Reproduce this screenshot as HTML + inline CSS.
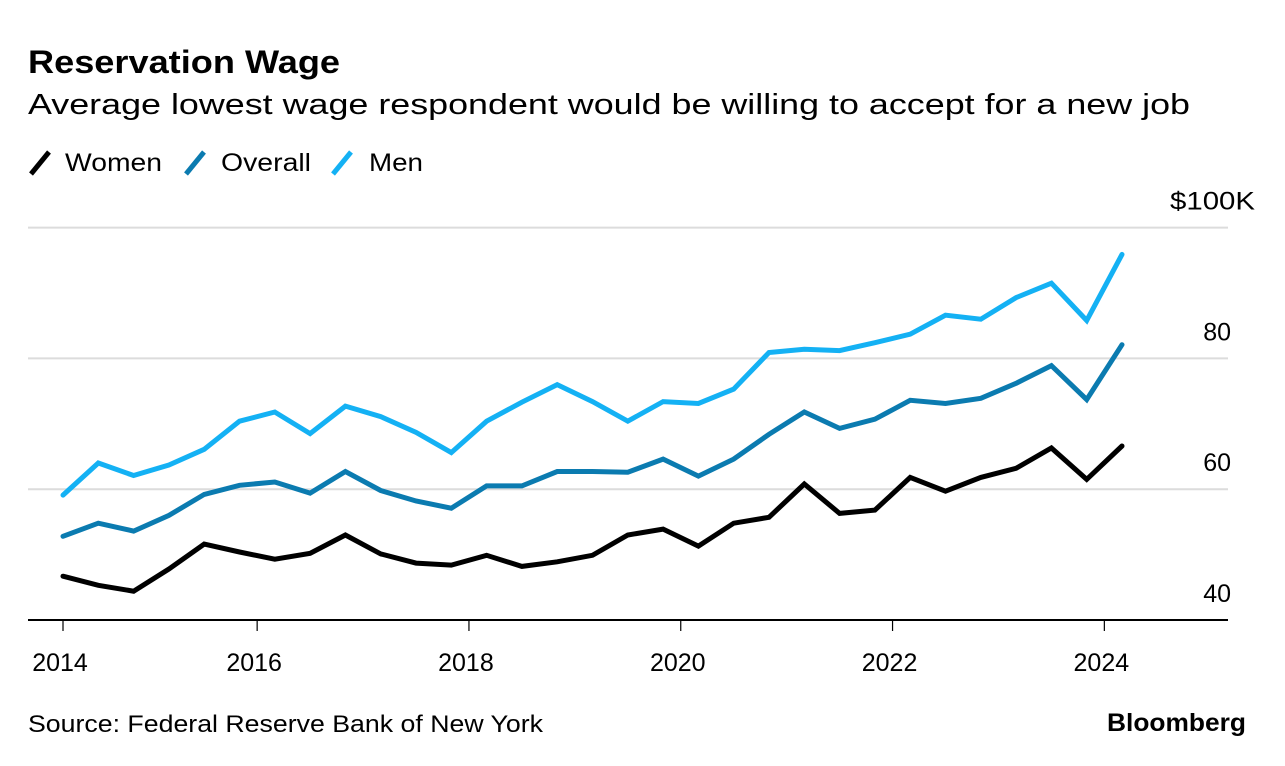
<!DOCTYPE html>
<html><head><meta charset="utf-8"><style>
body{margin:0;background:#fff;font-family:"Liberation Sans",sans-serif;}
svg{display:block}
</style></head><body>
<svg width="1285" height="766" viewBox="0 0 1285 766">
<text x="28" y="73" font-size="32" font-weight="bold" fill="#000" textLength="312" lengthAdjust="spacingAndGlyphs">Reservation Wage</text>
<text x="28" y="114" font-size="29" fill="#000" textLength="1162" lengthAdjust="spacingAndGlyphs">Average lowest wage respondent would be willing to accept for a new job</text>
<g>
<g><line x1="31" y1="174" x2="49" y2="152" stroke="#000" stroke-width="5"/><text x="65" y="171" font-size="25" textLength="97" lengthAdjust="spacingAndGlyphs">Women</text></g>
<g><line x1="186" y1="174" x2="204" y2="152" stroke="#0b7bb0" stroke-width="5"/><text x="221" y="171" font-size="25" textLength="90" lengthAdjust="spacingAndGlyphs">Overall</text></g>
<g><line x1="333" y1="174" x2="351" y2="152" stroke="#14b1f4" stroke-width="5"/><text x="369" y="171" font-size="25" textLength="54" lengthAdjust="spacingAndGlyphs">Men</text></g>
</g>
<g id="grid"></g>
<g id="xaxis"></g>
<g id="lines"></g>
<text x="28" y="732" font-size="24" fill="#000" textLength="515" lengthAdjust="spacingAndGlyphs">Source: Federal Reserve Bank of New York</text>
<text x="1107" y="731" font-size="25" font-weight="bold" fill="#000" textLength="139" lengthAdjust="spacingAndGlyphs">Bloomberg</text>
</svg>
<script>
const startYear = 2014 + 2/12;
const stepYears = 4/12;
const women = [46.7,45.3,44.4,47.8,51.6,50.4,49.3,50.2,53.0,50.1,48.7,48.4,49.9,48.2,48.9,49.9,53.0,53.9,51.3,54.8,55.7,60.8,56.3,56.8,61.8,59.7,61.8,63.2,66.3,61.5,66.6];
const overall = [52.8,54.8,53.6,56.0,59.2,60.6,61.1,59.4,62.7,59.8,58.2,57.1,60.5,60.5,62.7,62.7,62.6,64.6,62.0,64.6,68.4,71.8,69.3,70.7,73.6,73.1,73.9,76.2,78.9,73.7,82.1];
const men = [59.1,64.0,62.1,63.7,66.1,70.4,71.8,68.5,72.7,71.1,68.7,65.6,70.4,73.3,76.0,73.4,70.4,73.4,73.1,75.3,80.9,81.4,81.2,82.4,83.7,86.6,86.0,89.3,91.5,85.8,95.9];
const yTicks = [40,60,80,100];
const yTickLabels = ["40","60","80","$100K"];
const xTicks = [2014,2016,2018,2020,2022,2024];

const NS="http://www.w3.org/2000/svg";
const X0=63, PXY=105.9;
function x(t){return Math.max(X0, X0+(t-startYear)*PXY);}
function y(v){return 620-(v-40)*6.54;}
function mk(tag,attrs,parent){const e=document.createElementNS(NS,tag);for(const k in attrs)e.setAttribute(k,attrs[k]);parent.appendChild(e);return e;}

const grid=document.getElementById('grid');
yTicks.forEach((v,i)=>{
  if(v>40){
    const l=mk('line',{x1:28,x2:1228,y1:y(v),y2:y(v),stroke:'#dcdcdc','stroke-width':2},grid);
    
    
  }
  const isTop=i===yTicks.length-1;
  const attrs=isTop?{x:1170,y:y(v)-18,'font-size':25,textLength:85,lengthAdjust:'spacingAndGlyphs'}:{x:1231,y:y(v)-18,'font-size':25,'text-anchor':'end'};
  const t=mk('text',attrs,grid);
  t.textContent=yTickLabels[i];
  
  
});
const xa=document.getElementById('xaxis');
const base=mk('line',{x1:28,x2:1228,y1:620,y2:620,stroke:'#000','stroke-width':2},xa);


xTicks.forEach(yr=>{
  const px=x(yr);
  const tk=mk('line',{x1:px,x2:px,y1:620,y2:631,stroke:'#000','stroke-width':1.2},xa);
  
  
  const t=mk('text',{x:px-3,y:671,'font-size':25,'text-anchor':'middle'},xa);
  t.textContent=yr;
  
  
});
const lg=document.getElementById('lines');
function series(vals,color,name){
  const d=vals.map((v,i)=>(i?'L':'M')+x(startYear+i*stepYears).toFixed(1)+','+y(v).toFixed(1)).join(' ');
  const p=mk('path',{d:d,fill:'none',stroke:color,'stroke-width':5,'stroke-linejoin':'miter','stroke-linecap':'round'},lg);
  
  
}
series(men,'#14b1f4','line-men');
series(overall,'#0b7bb0','line-overall');
series(women,'#000000','line-women');
</script>
</body></html>
